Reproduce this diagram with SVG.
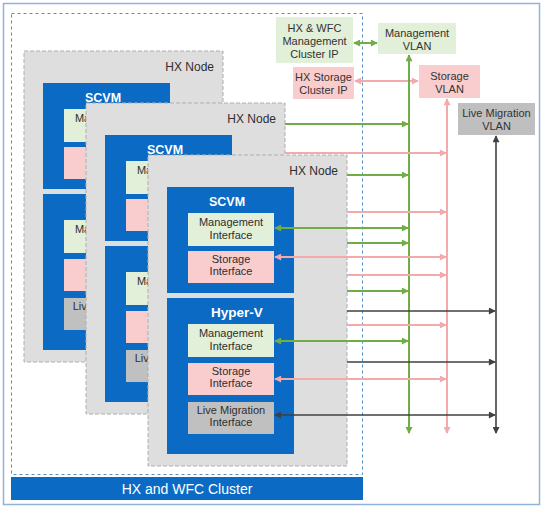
<svg xmlns="http://www.w3.org/2000/svg" width="544" height="509" viewBox="0 0 544 509">
<style>
text{font-family:"Liberation Sans",Arial,sans-serif;fill:#2e2e2e;}
.node{fill:#dedede;stroke:#aeaeae;stroke-width:1;stroke-dasharray:4 2;}
.blue{fill:#0a6ac4;}
.mg{fill:#e2efd9;}
.st{fill:#f9cdcd;}
.lm{fill:#c0c0c0;}
.hx{font-size:12px;text-anchor:end;}
.vm{font-size:12.5px;font-weight:bold;fill:#fff;text-anchor:middle;}
.if{font-size:11px;text-anchor:middle;}
.lab{font-size:11px;text-anchor:middle;fill:#333;}
.g{stroke:#70ad47;stroke-width:2;fill:none;}
.p{stroke:#f2aaaa;stroke-width:2;fill:none;}
.d{stroke:#404040;stroke-width:1.6;fill:none;}
</style>
<defs>
<marker id="ag" viewBox="0 0 8 8" refX="7" refY="4" markerWidth="8" markerHeight="7" markerUnits="userSpaceOnUse" orient="auto-start-reverse"><path d="M0,0 L8,4 L0,8 z" fill="#70ad47"/></marker>
<marker id="ap" viewBox="0 0 8 8" refX="7" refY="4" markerWidth="8" markerHeight="7" markerUnits="userSpaceOnUse" orient="auto-start-reverse"><path d="M0,0 L8,4 L0,8 z" fill="#f2aaaa"/></marker>
<marker id="ad" viewBox="0 0 8 8" refX="7" refY="4" markerWidth="8" markerHeight="7" markerUnits="userSpaceOnUse" orient="auto-start-reverse"><path d="M0,0 L8,4 L0,8 z" fill="#404040"/></marker>
<g id="hxnode">
<rect class="node" x="0" y="0" width="199" height="311"/>
<text class="hx" x="190" y="20">HX Node</text>
<rect class="blue" x="19" y="32" width="127" height="106"/>
<text class="vm" x="79" y="51">SCVM</text>
<rect class="mg" x="40" y="58" width="86" height="33"/>
<text class="if" x="83" y="71">Management</text>
<text class="if" x="83" y="84">Interface</text>
<rect class="st" x="40" y="96" width="86" height="32"/>
<text class="if" x="83" y="108">Storage</text>
<text class="if" x="83" y="120">Interface</text>
<rect class="blue" x="19" y="143" width="127" height="156"/>
<text class="vm" x="89" y="162" style="font-size:13.5px">Hyper-V</text>
<rect class="mg" x="40" y="169" width="86" height="33"/>
<text class="if" x="83" y="182">Management</text>
<text class="if" x="83" y="195">Interface</text>
<rect class="st" x="40" y="208" width="86" height="32"/>
<text class="if" x="83" y="220">Storage</text>
<text class="if" x="83" y="232">Interface</text>
<rect class="lm" x="40" y="247" width="86" height="32"/>
<text class="if" x="83" y="259">Live Migration</text>
<text class="if" x="83" y="271">Interface</text>
</g>
</defs>
<rect x="3.5" y="3.5" width="536" height="501" fill="#fff" stroke="#8fb4d9" stroke-width="1.5"/>
<g id="cluster">
<rect x="11.5" y="13.5" width="351" height="461" fill="none" stroke="#4f8fcb" stroke-width="1" stroke-dasharray="3 3"/>
<rect class="blue" x="11" y="477" width="352" height="23"/>
<text x="187" y="494" font-size="14" text-anchor="middle" style="fill:#fff">HX and WFC Cluster</text>
</g>
<g id="node1" transform="translate(24,51)"><use href="#hxnode"/></g>
<g id="node2" transform="translate(86,103)"><use href="#hxnode"/></g>
<g id="node3" transform="translate(148,155)"><use href="#hxnode"/></g>
<g id="mgmt-ip">
<rect class="mg" x="276" y="17" width="77" height="46"/>
<text class="lab" x="314.5" y="32">HX &amp; WFC</text>
<text class="lab" x="314.5" y="45">Management</text>
<text class="lab" x="314.5" y="58">Cluster IP</text>
</g>
<g id="storage-ip">
<rect class="st" x="293" y="67" width="61" height="32"/>
<text class="lab" x="323.5" y="81">HX Storage</text>
<text class="lab" x="323.5" y="94">Cluster IP</text>
</g>
<g id="mgmt-vlan">
<rect class="mg" x="378" y="23" width="78" height="31"/>
<text class="lab" x="417" y="37">Management</text>
<text class="lab" x="417" y="50">VLAN</text>
</g>
<g id="storage-vlan">
<rect class="st" x="419" y="65" width="61" height="33"/>
<text class="lab" x="449.5" y="80">Storage</text>
<text class="lab" x="449.5" y="93">VLAN</text>
</g>
<g id="lm-vlan">
<rect class="lm" x="458" y="103" width="77" height="32" style="fill:#bfbfbf"/>
<text class="lab" x="496.5" y="117">Live Migration</text>
<text class="lab" x="496.5" y="130">VLAN</text>
</g>
<g id="connectors">
<line class="g" x1="354" y1="43" x2="377" y2="43" marker-start="url(#ag)" marker-end="url(#ag)"/>
<line class="p" x1="355" y1="81" x2="418" y2="81" marker-start="url(#ap)" marker-end="url(#ap)"/>
<line class="g" x1="409" y1="433" x2="409" y2="55" stroke-width="2.5" marker-start="url(#ag)" marker-end="url(#ag)"/>
<line class="p" x1="447" y1="433" x2="447" y2="99" marker-start="url(#ap)" marker-end="url(#ap)"/>
<line class="d" x1="496" y1="433" x2="496" y2="136" stroke-width="2" marker-start="url(#ad)" marker-end="url(#ad)"/>
<line class="g" x1="285" y1="124" x2="408" y2="124" marker-end="url(#ag)"/>
<line class="p" x1="285" y1="153" x2="446" y2="153" marker-end="url(#ap)"/>
<line class="g" x1="347" y1="175" x2="408" y2="175" marker-end="url(#ag)"/>
<line class="p" x1="347" y1="212" x2="446" y2="212" marker-end="url(#ap)"/>
<line class="g" x1="275" y1="228" x2="408" y2="228" marker-start="url(#ag)" marker-end="url(#ag)"/>
<line class="g" x1="347" y1="243" x2="408" y2="243" marker-end="url(#ag)"/>
<line class="p" x1="275" y1="257" x2="446" y2="257" marker-start="url(#ap)" marker-end="url(#ap)"/>
<line class="p" x1="347" y1="275" x2="446" y2="275" marker-end="url(#ap)"/>
<line class="g" x1="347" y1="291" x2="408" y2="291" marker-end="url(#ag)"/>
<line class="d" x1="347" y1="311" x2="495" y2="311" marker-end="url(#ad)"/>
<line class="p" x1="347" y1="325" x2="446" y2="325" marker-end="url(#ap)"/>
<line class="g" x1="275" y1="341" x2="408" y2="341" marker-start="url(#ag)" marker-end="url(#ag)"/>
<line class="d" x1="347" y1="362" x2="495" y2="362" marker-end="url(#ad)"/>
<line class="p" x1="275" y1="379" x2="446" y2="379" marker-start="url(#ap)" marker-end="url(#ap)"/>
<line class="d" x1="275" y1="415" x2="495" y2="415" marker-start="url(#ad)" marker-end="url(#ad)"/>
</g>
</svg>
